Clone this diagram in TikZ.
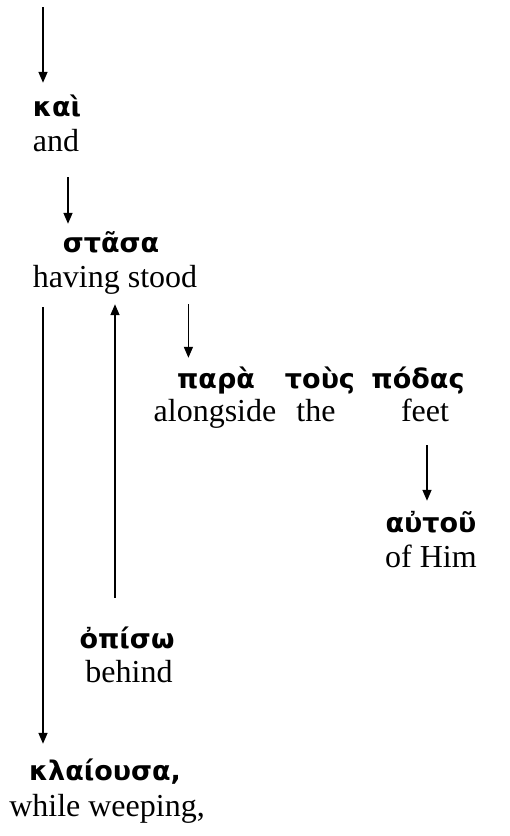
\documentclass[tikz,border=0pt]{standalone}
\usepackage{fontspec}
\setmainfont{Liberation Serif}
\newfontfamily\greekfont{DejaVu Sans}
\usetikzlibrary{arrows.meta}

\tikzset{
  greek/.style={inner sep=0pt, anchor=base, text height=20pt, text depth=6pt,
    font=\greekfont\bfseries\fontsize{27}{31}\selectfont},
  gloss/.style={inner sep=0pt, anchor=base, text height=22pt, text depth=7pt,
    font=\fontsize{32}{38}\selectfont},
  arr/.style={line width=1.5pt, -{Triangle[length=11pt,width=9pt]}}
}

\begin{document}
\begin{tikzpicture}[x=1pt,y=-1pt]
      \useasboundingbox (0,0) rectangle (510,836);
      \coordinate (top) at (43,7);
      \draw
        (57,116) node[greek] (kai){καὶ}
        (56,151) node[gloss] (and){and}
        (111,252) node[greek] (stasa){στᾶσα}
        (115,287) node[gloss] (stood){having stood}
        (216,388) node[greek] (para){παρὰ}
        (320,388) node[greek] (tous){τοὺς}
        (418,388) node[greek] (podas){πόδας}
        (215,421) node[gloss] (alongside){alongside}
        (316,421) node[gloss] (the){the}
        (425,421) node[gloss] (feet){feet}
        (431,532) node[greek] (autou){αὐτοῦ}
        (431,567) node[gloss] (him){of Him}
        (127,648) node[greek] (opiso){ὀπίσω}
        (129,682) node[gloss] (behind){behind}
        (105,780) node[greek] (klaiousa){κλαίουσα,}
        (107,816) node[gloss] (weeping){while weeping,};
      \begin{scope}[arr]
        \draw[shorten >=13pt] (top) -- (top |- kai.north);
        \draw[shorten <=19pt, shorten >=8pt] ([xshift=12pt]and.south) coordinate (a) -- (a |- stasa.north);
        \draw[shorten <=13pt, shorten >=16pt] (top |- stood.south) -- (top |- klaiousa.north);
        \draw[shorten <=30pt, shorten >=10pt] (stood.south |- opiso.north) -- (stood.south);
        \draw[shorten <=10pt, shorten >=10pt] ([xshift=-9pt]stood.south east) coordinate (b) -- (b |- para.north);
        \draw[shorten <=17pt, shorten >=11pt] ([xshift=2pt]feet.south) coordinate (c) -- (c |- autou.north);
      \end{scope}
    \end{tikzpicture}
\end{document}
